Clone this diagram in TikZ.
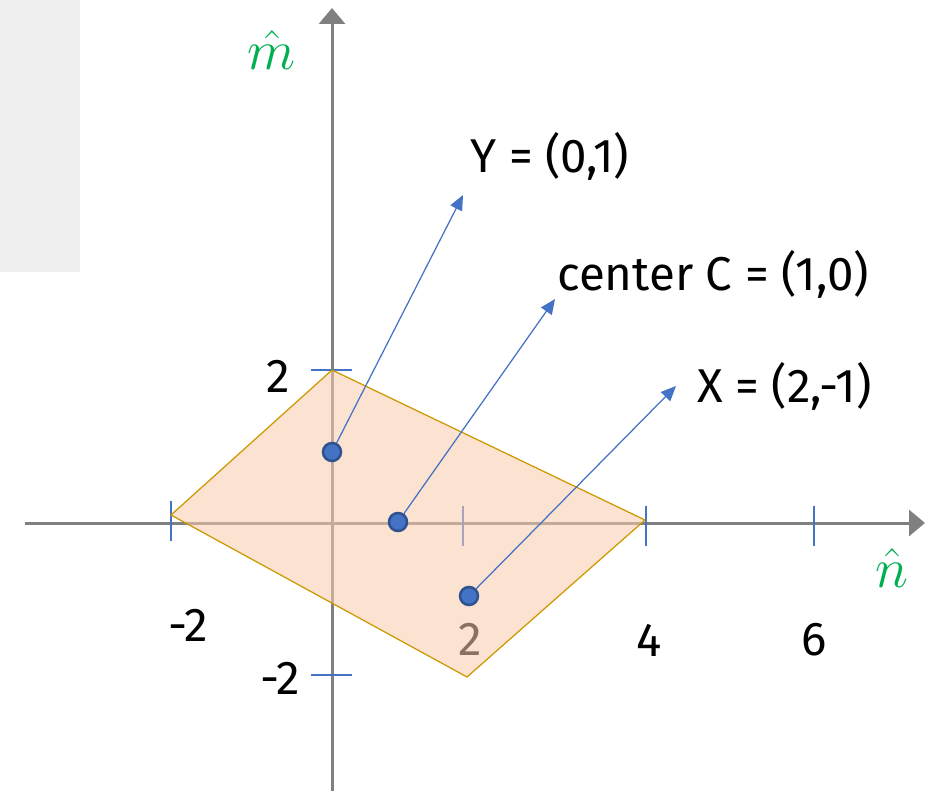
\RequirePackage{fix-cm}
\documentclass[tikz,border=0pt]{standalone}
\usepackage{fontspec}
\setmainfont{Fira Sans}
\usetikzlibrary{arrows.meta,positioning,calc}

\definecolor{axisgray}{RGB}{128,128,128}
\definecolor{ptblue}{RGB}{68,114,196}
\definecolor{ptedge}{RGB}{47,82,143}
\definecolor{regionfill}{RGB}{248,203,173}
\definecolor{regionedge}{RGB}{204,153,0}
\definecolor{hatgreen}{RGB}{0,176,80}
\definecolor{panelgray}{RGB}{240,240,240}

\begin{document}
\begin{tikzpicture}[
  x=0.2mm, y=-0.2mm,
  font=\fontsize{27}{32}\selectfont,
  axis/.style={draw=axisgray, line width=0.6mm, -{Triangle[length=3.2mm, width=5.2mm]}},
  tick/.style={draw=ptblue, line width=0.25mm},
  num/.style={inner sep=0pt, anchor=center},
  pt/.style={circle, fill=ptblue, draw=ptedge, line width=0.5mm, minimum size=3.6mm, inner sep=0pt},
  lbl/.style={inner sep=0pt, anchor=base west},
  arrow/.style={draw=ptblue, line width=0.25mm, -{Triangle[length=3mm, width=2.6mm]}},
  hat/.style={text=hatgreen, inner sep=0pt, font=\fontsize{32}{38}\selectfont},
]
  \useasboundingbox (0,0) rectangle (938,791);
  \fill[panelgray] (0,0) rectangle (80,272);

  % axes
  \coordinate (xstart) at (25,523);
  \coordinate (xend) at (925,523);
  \coordinate (ystart) at (332,791);
  \coordinate (yend) at (332,8);
  \draw[axis] (xstart) -- (xend);
  \draw[axis] (ystart) -- (yend);

  % ticks
  \draw[tick] (311,370) -- (352,370);
  \draw[tick] (311,675) -- (352,675);
  \draw[tick] (171,501) -- (171,541);
  \draw[tick] (463,506) -- (463,546);
  \draw[tick] (646,506) -- (646,546);
  \draw[tick] (814,506) -- (814,546);

  % tick labels
  \node[num] (ytwo) at (278,376) {2};
  \node[num] (ymtwo) at (280,678) {-2};
  \node[num] (xmtwo) at (188,625) {-2};
  \node[num] (xtwo) at (470,639) {2};
  \node[num] (xfour) at (649,640) {4};
  \node[num] (xsix) at (814,640) {6};
  \node[hat] (mhat) at (272,50) {$\hat{m}$};
  \node[hat] (nhat) at (892,568) {$\hat{n}$};

  % region
  \filldraw[fill=regionfill, fill opacity=0.56, draw=regionedge, line width=0.25mm]
    (171,515) -- (332,370) -- (645,520) -- (467,677) -- cycle;

  % points
  \node[pt] (Y) at (332,452) {};
  \node[pt] (C) at (398,522) {};
  \node[pt] (X) at (469,596) {};

  \coordinate (Ytip) at (463,195);
  \coordinate (Ctip) at (555,299);
  \coordinate (Xtip) at (676,386);
  \draw[arrow] (Y) -- (Ytip);
  \draw[arrow] (C) -- (Ctip);
  \draw[arrow] (X) -- (Xtip);

  \node[lbl] (Ylbl) at (470,173) {Y = (0,1)};
  \node[lbl] (Clbl) at (557,291) {center C = (1,0)};
  \node[lbl] (Xlbl) at (697,403) {X = (2,-1)};
\end{tikzpicture}
\end{document}
